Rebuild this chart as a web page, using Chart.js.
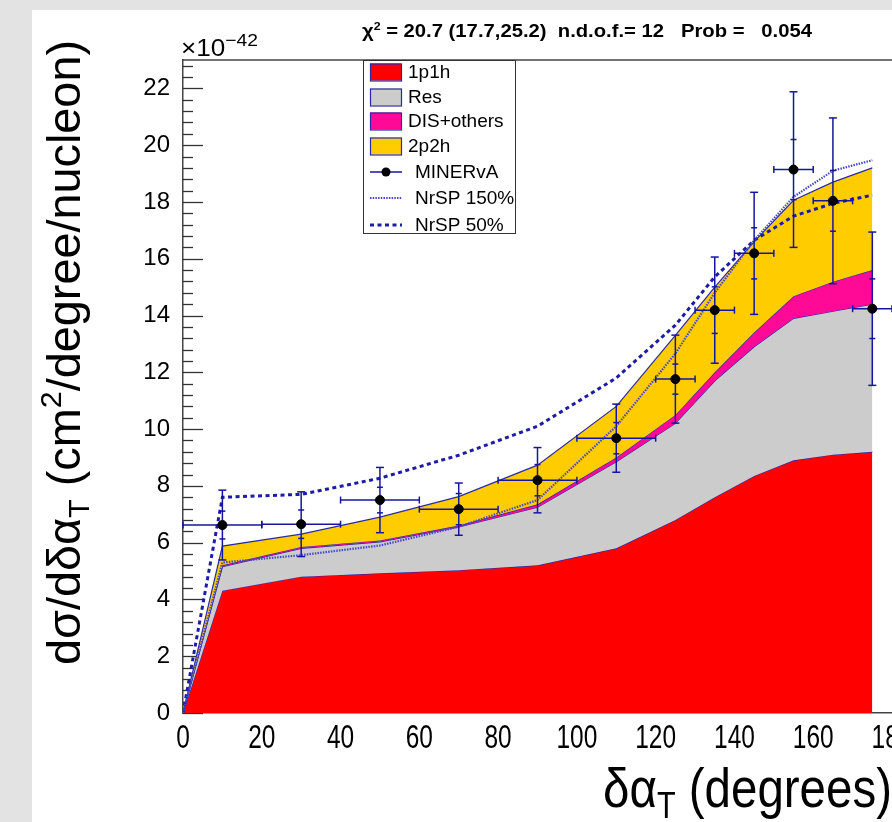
<!DOCTYPE html>
<html><head><meta charset="utf-8">
<script src="https://cdn.jsdelivr.net/npm/chart.js@4.4.1/dist/chart.umd.min.js"></script>
<style>
html,body{margin:0;padding:0;width:892px;height:822px;overflow:hidden;background:#e3e3e3;}
#panel{position:absolute;left:32px;top:10px;width:860px;height:812px;background:#fff;}
#wrap{position:absolute;left:0;top:0;width:1000px;height:822px;}
</style></head><body>
<div id="panel"></div>
<div id="wrap"><canvas id="c" width="1000" height="822"></canvas></div>
<script>
// ---- data (units of 1e-42 cm^2/degree/nucleon) ----
const xCenters = [0, 10, 30, 50, 70, 90, 110, 125, 135, 145, 155, 165, 175];
const comp1p1h = [0, 4.31, 4.80, 4.92, 5.03, 5.20, 5.80, 6.80, 7.60, 8.35, 8.90, 9.10, 9.20];
const compRes  = [0, 0.84, 1.00, 1.11, 1.52, 2.05, 3.05, 3.40, 4.10, 4.55, 5.00, 5.05, 5.20];
const compDIS  = [0, 0.05, 0.05, 0.05, 0.05, 0.10, 0.15, 0.30, 0.30, 0.50, 0.78, 1.04, 1.20];
const comp2p2h = [0, 0.68, 0.45, 0.82, 1.02, 1.38, 1.80, 2.80, 3.00, 3.20, 3.38, 3.51, 3.60];
const nrsp150  = [0, 5.30, 5.56, 5.90, 6.56, 7.50, 10.1, 12.66, 14.8, 16.65, 18.18, 19.1, 19.47];
const nrsp50   = [0, 7.60, 7.70, 8.27, 9.08, 10.1, 11.8, 13.66, 15.36, 16.65, 17.5, 17.95, 18.24];

const dataX    = [10, 30, 50, 70, 90, 110, 125, 135, 145, 155, 165, 175];
const binLow   = [0, 20, 40, 60, 80, 100, 120, 130, 140, 150, 160, 170];
const binHigh  = [20, 40, 60, 80, 100, 120, 130, 140, 150, 160, 170, 180];
const dataY    = [6.62, 6.65, 7.50, 7.18, 8.20, 9.68, 11.76, 14.19, 16.19, 19.14, 18.04, 14.24];
const errTot   = [1.23, 1.14, 1.15, 0.92, 1.15, 1.20, 1.55, 1.87, 2.15, 2.74, 2.92, 2.70];
const errStat  = [0.49, 0.50, 0.45, 0.55, 0.55, 0.55, 0.53, 0.82, 0.90, 1.06, 1.07, 1.05];

const xTicks = [0, 20, 40, 60, 80, 100, 120, 140, 160, 180];
const yTicks = [0, 2, 4, 6, 8, 10, 12, 14, 16, 18, 20, 22];
const yMinorStep = 0.4;

// cumulative stack
function cum(...arrs){ return xCenters.map((_,i)=>arrs.reduce((s,a)=>s+a[i],0)); }
const top1 = cum(comp1p1h), top2 = cum(comp1p1h,compRes), top3 = cum(comp1p1h,compRes,compDIS), top4 = cum(comp1p1h,compRes,compDIS,comp2p2h);
const xy = arr => xCenters.map((x,i)=>({x, y:arr[i]}));

const LINE = '#2a2aa8';
const SANS = "'Liberation Sans', Arial, sans-serif";

// draw text made of pieces (sub/superscripts) with a horizontal squeeze
function drawRich(ctx, parts, x, y, o){
  o = o || {};
  let w = 0;
  parts.forEach(p=>{ ctx.font = p.font; p.w = ctx.measureText(p.t).width; w += p.w; });
  const s = o.w ? o.w / w : (o.sx || 1);
  ctx.save();
  ctx.translate(x, y);
  if (o.rot) ctx.rotate(o.rot);
  ctx.scale(s, 1);
  ctx.fillStyle = '#000';
  ctx.textBaseline = 'alphabetic';
  ctx.textAlign = 'left';
  let cx = o.align === 'center' ? -w/2 : 0;
  parts.forEach(p=>{ ctx.font = p.font; ctx.fillText(p.t, cx, p.dy||0); cx += p.w; });
  ctx.restore();
}

const rootDecor = {
  id: 'rootDecor',
  beforeDatasetsDraw(chart){
    const {ctx, chartArea:a, scales:{y}} = chart;
    ctx.save();
    ctx.strokeStyle = '#333'; ctx.lineWidth = 1.3;
    for (let k = 0; k * yMinorStep <= 23.0001; k++){
      const v = k * yMinorStep;
      const major = Math.abs(v/2 - Math.round(v/2)) < 1e-6;
      const py = Math.round(y.getPixelForValue(v)) + 0.5;
      ctx.beginPath(); ctx.moveTo(a.left, py); ctx.lineTo(a.left + (major ? 20 : 10), py); ctx.stroke();
    }
    ctx.restore();
  },
  beforeDatasetDraw(chart, args){
    if (chart.data.datasets[args.index].label !== 'MINERvA') return;
    const {ctx, scales:{x, y}} = chart;
    ctx.save();
    ctx.strokeStyle = '#1515a0'; ctx.lineWidth = 1.5;
    const seg = (x1,y1,x2,y2)=>{ ctx.beginPath(); ctx.moveTo(x1,y1); ctx.lineTo(x2,y2); ctx.stroke(); };
    dataX.forEach((xv,i)=>{
      const px = x.getPixelForValue(xv), py = y.getPixelForValue(dataY[i]);
      const xl = x.getPixelForValue(binLow[i]), xh = x.getPixelForValue(binHigh[i]);
      const yt = y.getPixelForValue(dataY[i]+errTot[i]), yb = y.getPixelForValue(dataY[i]-errTot[i]);
      const st = y.getPixelForValue(dataY[i]+errStat[i]), sb = y.getPixelForValue(dataY[i]-errStat[i]);
      seg(xl, py, xh, py);
      seg(xl, py-3.5, xl, py+3.5); seg(xh, py-3.5, xh, py+3.5);
      seg(px, yt, px, yb);
      seg(px-4, yt, px+4, yt); seg(px-4, yb, px+4, yb);
      seg(px-3, st, px+3, st); seg(px-3, sb, px+3, sb);
    });
    ctx.restore();
  },
  afterDraw(chart){
    const {ctx, chartArea:a, scales:{x}} = chart;
    ctx.save();
    // x tick labels (narrow Helvetica look)
    x.ticks.forEach(t=>{
      drawRich(ctx, [{t:String(t.value), font:'34px '+SANS}], x.getPixelForValue(t.value), 748, {sx:0.72, align:'center'});
    });
    // top frame
    ctx.strokeStyle = '#444'; ctx.lineWidth = 1.5;
    ctx.beginPath(); ctx.moveTo(a.left, a.top); ctx.lineTo(1000, a.top); ctx.stroke();
    // legend box
    const L = 363, R = 515, T = a.top, B = 233;
    ctx.fillStyle = '#fff'; ctx.fillRect(L, T, R-L, B-T);
    ctx.strokeStyle = '#333'; ctx.lineWidth = 1;
    ctx.strokeRect(L+0.5, T+0.5, R-L, B-T);
    const ds = chart.data.datasets;
    const rows = [72, 97, 121, 146, 172, 198, 225];
    const order = ['1p1h','Res','DIS+others','2p2h','MINERvA','NrSP 150%','NrSP 50%'];
    order.forEach((lab, r)=>{
      const d = ds.find(q=>q.label===lab);
      const cy = rows[r];
      if (d.fill !== false && d.fill !== undefined){
        ctx.fillStyle = d.backgroundColor; ctx.fillRect(370, cy-8.5, 31, 17);
        ctx.strokeStyle = LINE; ctx.lineWidth = 1.2; ctx.setLineDash([]);
        ctx.strokeRect(370.5, cy-8, 31, 17);
        ctx.fillStyle = '#000'; ctx.font = '19px ' + SANS; ctx.textBaseline = 'middle';
        ctx.fillText(lab, 408, cy+1);
      } else if (lab === 'MINERvA'){
        ctx.strokeStyle = '#1515a0'; ctx.lineWidth = 1.5; ctx.setLineDash([]);
        ctx.beginPath(); ctx.moveTo(370, cy); ctx.lineTo(402, cy); ctx.stroke();
        ctx.fillStyle = '#000'; ctx.beginPath(); ctx.arc(386, cy, 4.5, 0, Math.PI*2); ctx.fill();
        ctx.font = '19px ' + SANS; ctx.textBaseline = 'middle'; ctx.fillText(lab, 415, cy+1);
      } else {
        ctx.strokeStyle = d.borderColor; ctx.lineWidth = d.borderWidth; ctx.setLineDash(d.borderDash);
        ctx.beginPath(); ctx.moveTo(370, cy); ctx.lineTo(402, cy); ctx.stroke();
        ctx.setLineDash([]);
        ctx.fillStyle = '#000'; ctx.font = '19px ' + SANS; ctx.textBaseline = 'middle'; ctx.fillText(lab, 415, cy+1);
      }
    });
    // chi2 header
    drawRich(ctx, [
      {t:'χ', font:'bold 18px '+SANS},
      {t:'2', font:'bold 11px '+SANS, dy:-7},
      {t:' = 20.7 (17.7,25.2)  n.d.o.f.= 12   Prob =   0.054', font:'bold 18px '+SANS}
    ], 362, 37, {w:450});
    // exponent
    drawRich(ctx, [
      {t:'×10', font:'23px '+SANS},
      {t:'−42', font:'17px '+SANS, dy:-10}
    ], 181, 56, {w:77});
    // x title
    drawRich(ctx, [
      {t:'δα', font:'56px '+SANS},
      {t:'T', font:'36px '+SANS, dy:11},
      {t:' (degrees)', font:'56px '+SANS}
    ], 603, 807, {w:289});
    // y title
    drawRich(ctx, [
      {t:'dσ/dδα', font:'46px '+SANS},
      {t:'T', font:'30px '+SANS, dy:9},
      {t:' (cm', font:'46px '+SANS},
      {t:'2', font:'30px '+SANS, dy:-19},
      {t:'/degree/nucleon)', font:'46px '+SANS}
    ], 80, 665, {w:625, rot:-Math.PI/2});
    ctx.restore();
  }
};

const fillBase = {pointRadius:0, borderColor:LINE, borderWidth:1.2, tension:0};
new Chart(document.getElementById('c'), {
  type: 'line',
  data: { datasets: [
    {...fillBase, label:'1p1h', data: xy(top1), backgroundColor:'#ff0000', fill:'origin', order:5},
    {...fillBase, label:'Res', data: xy(top2), backgroundColor:'#cccccc', fill:'-1', order:4},
    {...fillBase, label:'DIS+others', data: xy(top3), backgroundColor:'#ff0a96', fill:'-1', order:3},
    {...fillBase, label:'2p2h', data: xy(top4), backgroundColor:'#ffcc00', fill:'-1', order:2},
    {label:'NrSP 150%', data: xy(nrsp150), borderColor:'#4646d0', borderWidth:2.2, borderDash:[1.5,1.2], pointRadius:0, fill:false, tension:0, order:1},
    {label:'NrSP 50%', data: xy(nrsp50), borderColor:'#1c1ca6', borderWidth:3, borderDash:[4,3.5], pointRadius:0, fill:false, tension:0, order:1},
    {label:'MINERvA', data: dataX.map((x,i)=>({x, y:dataY[i]})), showLine:false, pointRadius:4.5, pointBackgroundColor:'#000', pointBorderColor:'#000', borderColor:'#000', fill:false, order:0}
  ]},
  options: {
    responsive:false, animation:false, devicePixelRatio:1,
    layout:{padding:{left:0, right:108, top:60, bottom:0}},
    plugins:{legend:{display:false}, tooltip:{enabled:false}},
    scales:{
      x:{type:'linear', min:0, max:180,
         afterBuildTicks:s=>{ s.ticks = xTicks.map(v=>({value:v})); },
         ticks:{display:false},
         grid:{display:false, drawTicks:false},
         border:{display:true, color:'#444', width:1.5},
         afterFit:s=>{ s.height = 109; }},
      y:{type:'linear', min:0, max:23,
         afterBuildTicks:s=>{ s.ticks = yTicks.map(v=>({value:v})); },
         ticks:{font:{family:SANS, size:24}, color:'#000', padding:13},
         grid:{display:false, drawTicks:false},
         border:{display:true, color:'#444', width:1.5},
         afterFit:s=>{ s.width = 183; }}
    }
  },
  plugins:[rootDecor]
});
</script>
</body></html>
